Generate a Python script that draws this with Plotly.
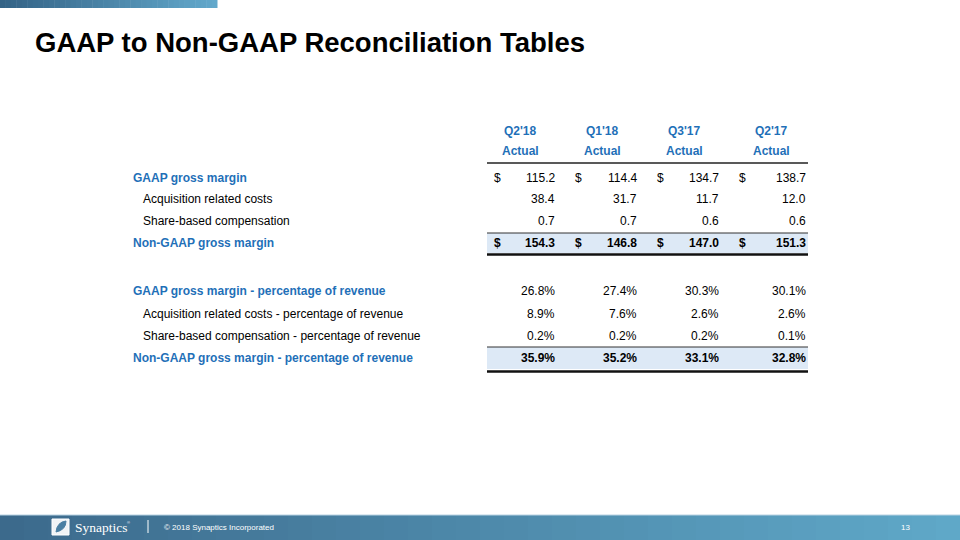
import plotly.graph_objects as go

# ---------------- data ----------------
periods = ["Q2'18", "Q1'18", "Q3'17", "Q2'17"]
sub_header = ["Actual", "Actual", "Actual", "Actual"]

dollar_labels = ["GAAP gross margin", "Acquisition related costs",
                 "Share-based compensation", "Non-GAAP gross margin"]
gaap_gross_margin = [115.2, 114.4, 134.7, 138.7]
acquisition_costs = [38.4, 31.7, 11.7, 12.0]
share_based_comp = [0.7, 0.7, 0.6, 0.6]
non_gaap_gross_margin = [154.3, 146.8, 147.0, 151.3]

pct_labels = ["GAAP gross margin - percentage of revenue",
              "Acquisition related costs - percentage of revenue",
              "Share-based compensation - percentage of revenue",
              "Non-GAAP gross margin - percentage of revenue"]
gaap_pct = [26.8, 27.4, 30.3, 30.1]
acq_pct = [8.9, 7.6, 2.6, 2.6]
sbc_pct = [0.2, 0.2, 0.2, 0.1]
non_gaap_pct = [35.9, 35.2, 33.1, 32.8]

title = "GAAP to Non-GAAP Reconciliation Tables"
footer_text = "© 2018 Synaptics Incorporated"
page_no = "13"

# ---------------- styling ----------------
FONT = "Liberation Sans Narrow, Arial Narrow, Liberation Sans, Arial, sans-serif"
BLUE = "#1f70b8"
BLACK = "#000000"
BAND = "#dde9f6"
FS = 12

col_right = [557, 639, 721, 808]
col_dollar = [497, 578, 660, 742]
col_center = [520, 602, 684, 771]
table_left, table_right = 487, 808
label_x_main, label_x_sub = 131, 141

fig = go.Figure()
shapes = []
ann = []


def lerp(c1, c2, t):
    return "rgb(%d,%d,%d)" % tuple(round(a + (b - a) * t) for a, b in zip(c1, c2))


# top gradient bar
n = 40
for i in range(n):
    x0 = 217 * i / n
    x1 = 217 * (i + 1) / n + 0.5
    shapes.append(dict(type="rect", x0=x0, x1=x1, y0=0, y1=8, line_width=0,
                       fillcolor=lerp((52, 99, 134), (98, 168, 203), i / (n - 1)),
                       layer="below"))
# footer gradient bar
for i in range(n):
    x0 = 960 * i / n
    x1 = 960 * (i + 1) / n + 0.5
    shapes.append(dict(type="rect", x0=x0, x1=x1, y0=515, y1=540, line_width=0,
                       fillcolor=lerp((60, 106, 140), (95, 168, 200), i / (n - 1)),
                       layer="below"))
shapes.append(dict(type="line", x0=0, x1=960, y0=515, y1=515,
                   line=dict(color="#b9d3e3", width=1)))

# title
ann.append(dict(x=33, y=42, text="<b>%s</b>" % title, xanchor="left", yanchor="middle",
                showarrow=False, font=dict(family=FONT, size=27.5, color=BLACK)))

# header
for i, p in enumerate(periods):
    ann.append(dict(x=col_center[i], y=131, text="<b>%s</b>" % p, showarrow=False,
                    xanchor="center", yanchor="middle",
                    font=dict(family=FONT, size=FS, color=BLUE)))
    ann.append(dict(x=col_center[i], y=151, text="<b>%s</b>" % sub_header[i], showarrow=False,
                    xanchor="center", yanchor="middle",
                    font=dict(family=FONT, size=FS, color=BLUE)))
shapes.append(dict(type="line", x0=table_left, x1=table_right, y0=163, y1=163,
                   line=dict(color="#222222", width=1.5)))

# bands
for (top, bot, thick) in [(233, 253, 254.5), (347, 369, 371.5)]:
    shapes.append(dict(type="rect", x0=table_left, x1=table_right, y0=top, y1=bot,
                       fillcolor=BAND, line_width=0, layer="below"))
    shapes.append(dict(type="line", x0=table_left, x1=table_right, y0=top, y1=top,
                       line=dict(color="#333333", width=1)))
    shapes.append(dict(type="line", x0=table_left, x1=table_right, y0=thick, y1=thick,
                       line=dict(color="#111111", width=2.5)))

# dollar section
dollar_rows = [gaap_gross_margin, acquisition_costs, share_based_comp, non_gaap_gross_margin]
dollar_y = [178, 199, 221, 243]
for r, (lab, vals, y) in enumerate(zip(dollar_labels, dollar_rows, dollar_y)):
    main = r in (0, 3)
    ann.append(dict(x=label_x_main if main else label_x_sub, y=y,
                    text=("<b>%s</b>" % lab) if main else lab, showarrow=False,
                    xanchor="left", yanchor="middle",
                    font=dict(family=FONT, size=FS, color=BLUE if main else BLACK)))
    bold = r == 3
    for i, v in enumerate(vals):
        t = "%.1f" % v
        ann.append(dict(x=col_right[i], y=y, text=("<b>%s</b>" % t) if bold else t,
                        showarrow=False, xanchor="right", yanchor="middle",
                        font=dict(family=FONT, size=FS, color=BLACK)))
        if r in (0, 3):
            ann.append(dict(x=col_dollar[i], y=y, text="<b>$</b>" if bold else "$",
                            showarrow=False, xanchor="center", yanchor="middle",
                            font=dict(family=FONT, size=FS, color=BLACK)))

# percentage section
pct_rows = [gaap_pct, acq_pct, sbc_pct, non_gaap_pct]
pct_y = [291, 314, 336, 358]
for r, (lab, vals, y) in enumerate(zip(pct_labels, pct_rows, pct_y)):
    main = r in (0, 3)
    ann.append(dict(x=label_x_main if main else label_x_sub, y=y,
                    text=("<b>%s</b>" % lab) if main else lab, showarrow=False,
                    xanchor="left", yanchor="middle",
                    font=dict(family=FONT, size=FS, color=BLUE if main else BLACK)))
    bold = r == 3
    for i, v in enumerate(vals):
        t = "%.1f%%" % v
        ann.append(dict(x=col_right[i], y=y, text=("<b>%s</b>" % t) if bold else t,
                        showarrow=False, xanchor="right", yanchor="middle",
                        font=dict(family=FONT, size=FS, color=BLACK)))

# footer: logo, divider, copyright, page number
shapes.append(dict(type="rect", x0=52, x1=69, y0=519, y1=535, line=dict(color="white", width=1),
                   fillcolor="rgba(255,255,255,0.92)"))
shapes.append(dict(type="path", path="M 56 532 Q 57 522 66 521 Q 66 530 56 532 Z",
                   fillcolor="#4a7fa3", line=dict(color="#4a7fa3", width=1)))
ann.append(dict(x=73, y=527, text="Synaptics", showarrow=False, xanchor="left", yanchor="middle",
                font=dict(family="Liberation Serif, Times New Roman, serif", size=13.5, color="white")))
ann.append(dict(x=125, y=522, text="®", showarrow=False, xanchor="left", yanchor="middle",
                font=dict(family="Liberation Sans, Arial", size=4, color="white")))
shapes.append(dict(type="line", x0=148, x1=148, y0=520, y1=533,
                   line=dict(color="white", width=1)))
ann.append(dict(x=162, y=527, text=footer_text, showarrow=False, xanchor="left", yanchor="middle",
                font=dict(family="Liberation Sans, Arial", size=8, color="white")))
ann.append(dict(x=905, y=527, text=page_no, showarrow=False, xanchor="center", yanchor="middle",
                font=dict(family="Liberation Sans, Arial", size=8, color="white")))

fig.update_layout(
    width=960, height=540,
    margin=dict(l=0, r=0, t=0, b=0),
    paper_bgcolor="white", plot_bgcolor="white",
    xaxis=dict(range=[0, 960], visible=False, fixedrange=True),
    yaxis=dict(range=[540, 0], visible=False, fixedrange=True),
    shapes=shapes, annotations=ann, showlegend=False,
)
fig.write_html("out.html", config={"displayModeBar": False},
               post_script="document.body.style.margin='0';document.body.style.overflow='hidden';")
